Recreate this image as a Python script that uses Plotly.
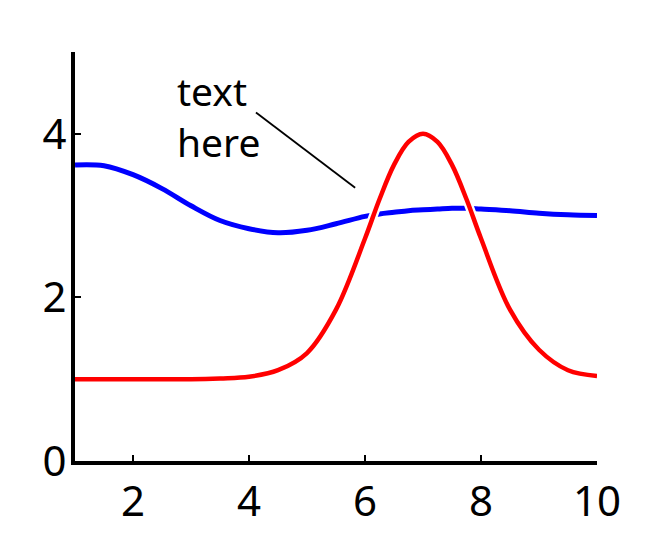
import plotly.graph_objects as go

# Data
x_vals = [1.0, 1.5, 2.0, 2.5, 3.0, 3.5, 4.0, 4.5, 5.0, 5.5, 6.0, 6.25, 6.5, 6.75, 7.0, 7.25, 7.5, 7.75, 8.0, 8.5, 9.0, 9.5, 10.0]
blue_vals = [3.62, 3.61, 3.50, 3.33, 3.12, 2.94, 2.84, 2.79, 2.82, 2.90, 2.99, 3.02, 3.04, 3.06, 3.07, 3.08, 3.09, 3.09, 3.08, 3.06, 3.03, 3.01, 3.00]
red_vals = [1.00, 1.00, 1.00, 1.00, 1.00, 1.01, 1.03, 1.11, 1.32, 1.85, 2.72, 3.20, 3.62, 3.90, 4.00, 3.90, 3.62, 3.20, 2.72, 1.85, 1.36, 1.11, 1.04]

x_ticks = [2, 4, 6, 8, 10]
y_ticks = [0, 2, 4]

note_text = "text<br>here"
note_pos = (2.72, 4.22)
note_line = (4.12, 4.26, 5.83, 3.34)

FONT = "Noto Sans"

fig = go.Figure()
# blue with white outline
fig.add_trace(go.Scatter(x=x_vals, y=blue_vals, mode="lines", line=dict(color="white", width=9, shape="spline", smoothing=1.0),
                         hoverinfo="skip", showlegend=False))
fig.add_trace(go.Scatter(x=x_vals, y=blue_vals, mode="lines", line=dict(color="#0000ff", width=5, shape="spline", smoothing=1.0),
                         showlegend=False))
# red with white outline on top
fig.add_trace(go.Scatter(x=x_vals, y=red_vals, mode="lines", line=dict(color="white", width=9, shape="spline"),
                         hoverinfo="skip", showlegend=False))
fig.add_trace(go.Scatter(x=x_vals, y=red_vals, mode="lines", line=dict(color="#ff0000", width=4.5, shape="spline"),
                         showlegend=False))

fig.add_shape(type="line", x0=note_line[0], y0=note_line[1], x1=note_line[2], y1=note_line[3],
              xref="x", yref="y", line=dict(color="black", width=1.8))
fig.add_annotation(x=note_pos[0], y=note_pos[1], xref="x", yref="y", text=note_text, showarrow=False,
                   xanchor="left", yanchor="middle", align="left",
                   font=dict(family=FONT, size=39, color="black"))

fig.update_layout(
    width=672, height=547,
    margin=dict(l=67, r=83, t=44, b=94),
    paper_bgcolor="white", plot_bgcolor="white",
    showlegend=False,
)
fig.update_xaxes(range=[1, 10], tickvals=x_ticks, ticktext=[str(v) for v in x_ticks],
                 showgrid=False, zeroline=False, showline=True, linecolor="black", linewidth=4,
                 ticks="inside", ticklen=6, tickwidth=2, tickcolor="black",
                 tickfont=dict(family=FONT, size=42, color="black"), ticklabelstandoff=1)
fig.update_yaxes(range=[0, 5], tickvals=y_ticks, ticktext=[str(v) for v in y_ticks],
                 showgrid=False, zeroline=False, showline=True, linecolor="black", linewidth=4,
                 ticks="inside", ticklen=6, tickwidth=2, tickcolor="black",
                 tickfont=dict(family=FONT, size=42, color="black"), ticklabelstandoff=-4)

fig.write_html("out.html")
